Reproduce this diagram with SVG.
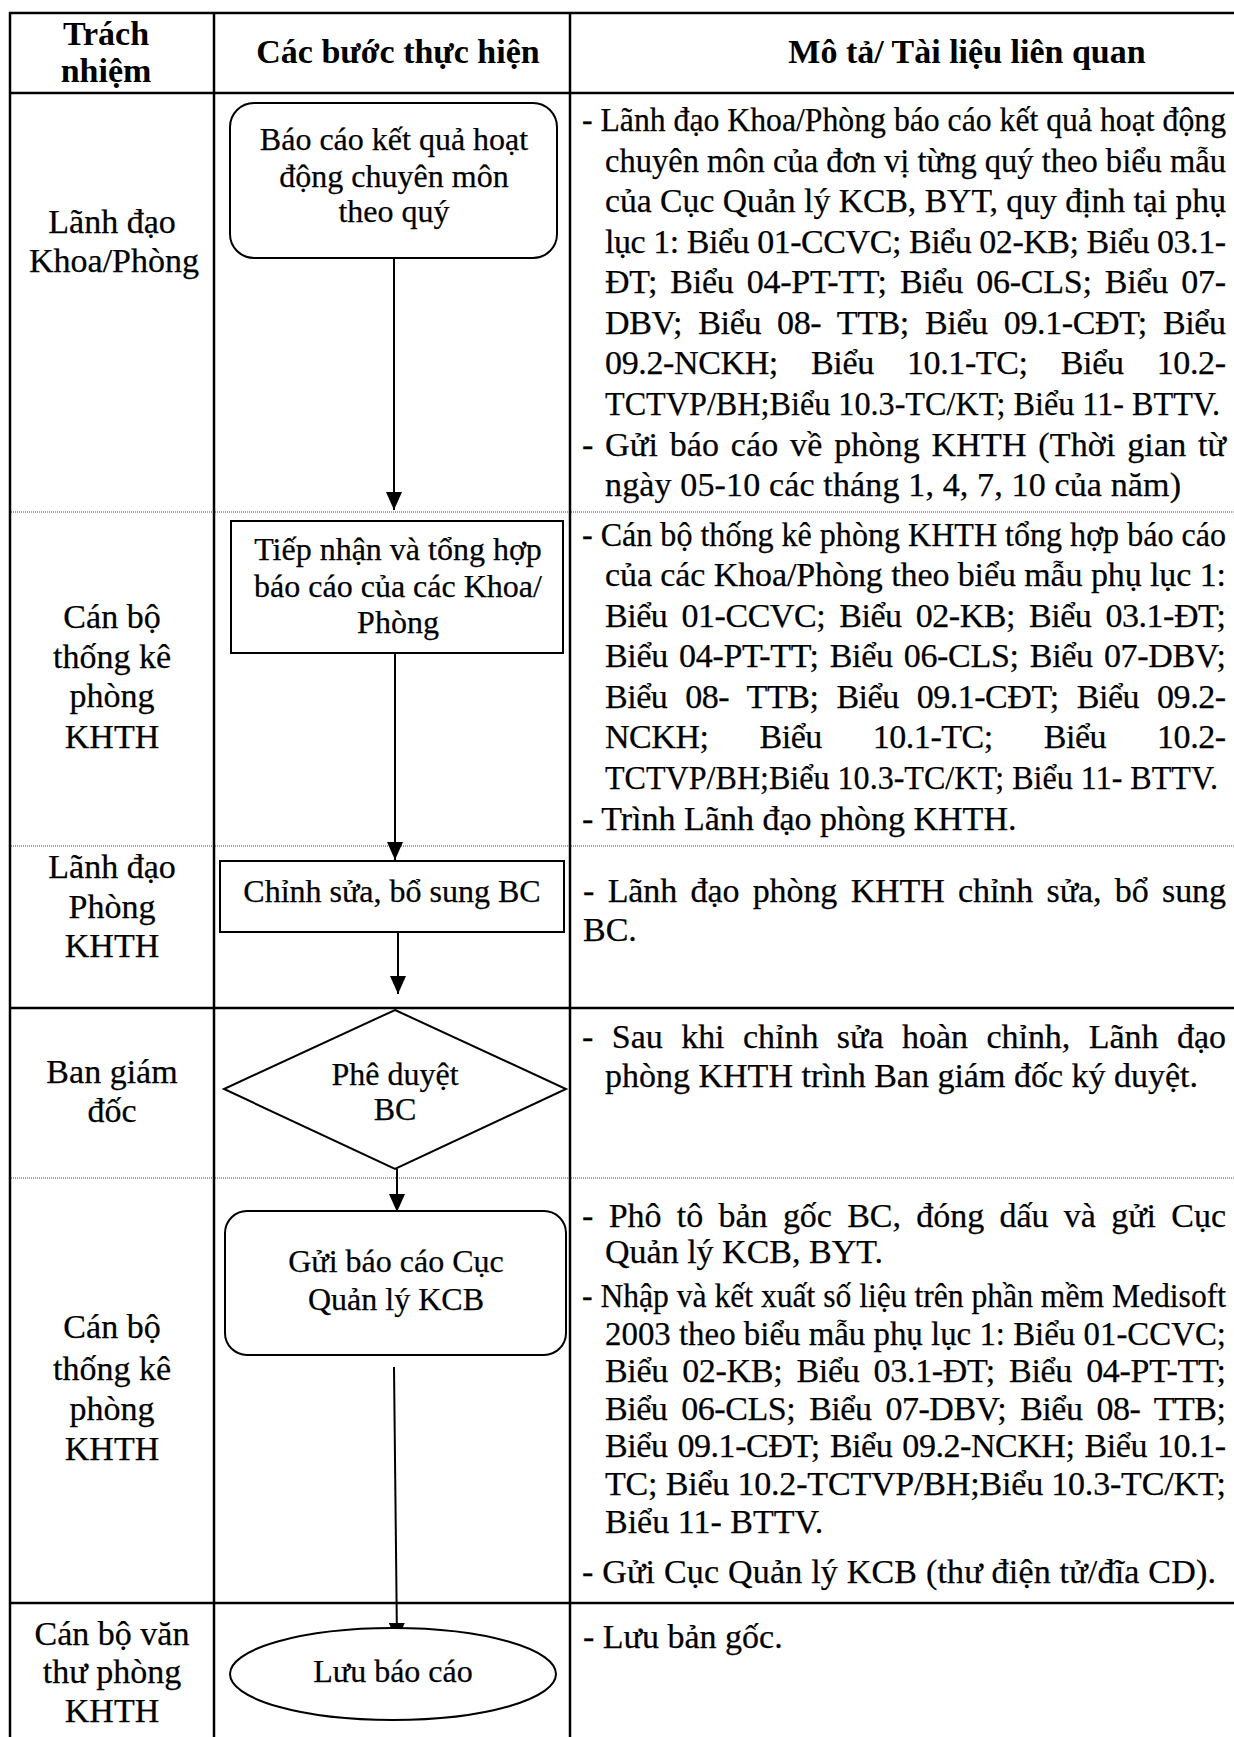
<svg xmlns="http://www.w3.org/2000/svg" width="1234" height="1737" viewBox="0 0 1234 1737">
<style>
text { font-family: "Liberation Serif", "Times New Roman", serif; fill: #000; }
.hd { font-size: 34px; font-weight: bold; text-anchor: middle; }
.lane { font-size: 34px; text-anchor: middle; stroke: #000; stroke-width: 0.25; }
.nt { font-size: 32px; text-anchor: middle; stroke: #000; stroke-width: 0.25; }
.ds { font-size: 34px; stroke: #000; stroke-width: 0.25; }
.grid { stroke: #000; stroke-width: 2.5; fill: none; }
.dot { stroke: #444; stroke-width: 1; stroke-dasharray: 1 1; fill: none; }
.shape { stroke: #000; stroke-width: 2; fill: #fff; }
.conn { stroke: #000; stroke-width: 2; fill: none; }
</style>
<defs>
<marker id="arr" markerUnits="userSpaceOnUse" markerWidth="18" markerHeight="16" refX="18" refY="8" orient="auto" viewBox="0 0 18 16">
<path d="M0,0 L18,8 L0,16 Z" fill="#000"/>
</marker>
</defs>
<rect x="0" y="0" width="1234" height="1737" fill="#fff"/>

<g id="table">
<line class="grid" x1="9" y1="13" x2="1234" y2="13"/>
<line class="grid" x1="9" y1="93" x2="1234" y2="93"/>
<line class="grid" x1="9" y1="1008" x2="1234" y2="1008"/>
<line class="grid" x1="9" y1="1603" x2="1234" y2="1603"/>
<line class="dot" x1="9" y1="512" x2="1234" y2="512"/>
<line class="dot" x1="9" y1="846" x2="1234" y2="846"/>
<line class="dot" x1="9" y1="1178" x2="1234" y2="1178"/>
<line class="grid" x1="10" y1="12" x2="10" y2="1737"/>
<line class="grid" x1="214" y1="12" x2="214" y2="1737"/>
<line class="grid" x1="570" y1="12" x2="570" y2="1737"/>
</g>

<g id="header">
<text class="hd" x="106" y="45">Trách</text>
<text class="hd" x="106" y="82">nhiệm</text>
<text class="hd" x="398" y="63">Các bước thực hiện</text>
<text class="hd" x="967" y="63">Mô tả/ Tài liệu liên quan</text>
</g>

<g id="lanes">
<text class="lane" x="112" y="233">Lãnh đạo</text>
<text class="lane" x="114" y="272">Khoa/Phòng</text>
<text class="lane" x="112" y="628">Cán bộ</text>
<text class="lane" x="112" y="668">thống kê</text>
<text class="lane" x="112" y="707">phòng</text>
<text class="lane" x="112" y="748">KHTH</text>
<text class="lane" x="112" y="878">Lãnh đạo</text>
<text class="lane" x="112" y="918">Phòng</text>
<text class="lane" x="112" y="957">KHTH</text>
<text class="lane" x="112" y="1083">Ban giám</text>
<text class="lane" x="112" y="1122">đốc</text>
<text class="lane" x="112" y="1338">Cán bộ</text>
<text class="lane" x="112" y="1380">thống kê</text>
<text class="lane" x="112" y="1420">phòng</text>
<text class="lane" x="112" y="1460">KHTH</text>
<text class="lane" x="112" y="1645">Cán bộ văn</text>
<text class="lane" x="112" y="1683">thư phòng</text>
<text class="lane" x="112" y="1722">KHTH</text>
</g>

<g id="connectors">
<line class="conn" x1="394" y1="258" x2="394" y2="510" marker-end="url(#arr)"/>
<line class="conn" x1="395" y1="653" x2="395" y2="860" marker-end="url(#arr)"/>
<line class="conn" x1="398" y1="932" x2="398" y2="994" marker-end="url(#arr)"/>
<line class="conn" x1="397" y1="1169" x2="397" y2="1212" marker-end="url(#arr)"/>
<line class="conn" x1="394" y1="1367" x2="397" y2="1641" marker-end="url(#arr)"/>
</g>

<g id="node1">
<rect class="shape" x="230" y="103" width="327" height="155" rx="24" ry="24"/>
<text class="nt" x="394" y="150">Báo cáo kết quả hoạt</text>
<text class="nt" x="394" y="187">động chuyên môn</text>
<text class="nt" x="394" y="222">theo quý</text>
</g>

<g id="node2">
<rect class="shape" x="231" y="521" width="332" height="132"/>
<text class="nt" x="398" y="560">Tiếp nhận và tổng hợp</text>
<text class="nt" x="398" y="597">báo cáo của các Khoa/</text>
<text class="nt" x="398" y="633">Phòng</text>
</g>

<g id="node3">
<rect class="shape" x="220" y="861" width="344" height="71"/>
<text class="nt" x="392" y="902">Chỉnh sửa, bổ sung BC</text>
</g>

<g id="node4">
<polygon class="shape" points="395,1010 566,1089 395,1169 224,1089"/>
<text class="nt" x="395" y="1085">Phê duyệt</text>
<text class="nt" x="395" y="1120">BC</text>
</g>

<g id="node5">
<rect class="shape" x="225" y="1211" width="341" height="144" rx="22" ry="22"/>
<text class="nt" x="396" y="1272">Gửi báo cáo Cục</text>
<text class="nt" x="396" y="1310">Quản lý KCB</text>
</g>

<g id="node6">
<ellipse class="shape" cx="393" cy="1674" rx="163" ry="46"/>
<text class="nt" x="393" y="1682">Lưu báo cáo</text>
</g>

<g id="descriptions">
<text class="ds" x="582" y="131" textLength="644" lengthAdjust="spacingAndGlyphs">- Lãnh đạo Khoa/Phòng báo cáo kết quả hoạt động</text>
<text class="ds" x="605" y="172" textLength="621" lengthAdjust="spacingAndGlyphs">chuyên môn của đơn vị từng quý theo biểu mẫu</text>
<text class="ds" x="605" y="212" textLength="621" lengthAdjust="spacingAndGlyphs">của Cục Quản lý KCB, BYT, quy định tại phụ</text>
<text class="ds" x="605" y="253" textLength="621">lục 1: Biểu 01-CCVC; Biểu 02-KB; Biểu 03.1-</text>
<text class="ds" x="605" y="293" textLength="621" style="word-spacing:5px">ĐT; Biểu 04-PT-TT; Biểu 06-CLS; Biểu 07-</text>
<text class="ds" x="605" y="334" textLength="621" style="word-spacing:8px">DBV; Biểu 08- TTB; Biểu 09.1-CĐT; Biểu</text>
<text class="ds" x="605" y="374" textLength="621" style="word-spacing:25px">09.2-NCKH; Biểu 10.1-TC; Biểu 10.2-</text>
<text class="ds" x="605" y="415" textLength="615" lengthAdjust="spacingAndGlyphs">TCTVP/BH;Biểu 10.3-TC/KT; Biểu 11- BTTV.</text>
<text class="ds" x="582" y="456" textLength="644" style="word-spacing:3px">- Gửi báo cáo về phòng KHTH (Thời gian từ</text>
<text class="ds" x="605" y="496" textLength="576">ngày 05-10 các tháng 1, 4, 7, 10 của năm)</text>

<text class="ds" x="582" y="546" textLength="644" lengthAdjust="spacingAndGlyphs">- Cán bộ thống kê phòng KHTH tổng hợp báo cáo</text>
<text class="ds" x="605" y="586" textLength="621">của các Khoa/Phòng theo biểu mẫu phụ lục 1:</text>
<text class="ds" x="605" y="627" textLength="621" style="word-spacing:6px">Biểu 01-CCVC; Biểu 02-KB; Biểu 03.1-ĐT;</text>
<text class="ds" x="605" y="667" textLength="621" style="word-spacing:3px">Biểu 04-PT-TT; Biểu 06-CLS; Biểu 07-DBV;</text>
<text class="ds" x="605" y="708" textLength="621" style="word-spacing:10px">Biểu 08- TTB; Biểu 09.1-CĐT; Biểu 09.2-</text>
<text class="ds" x="605" y="748" textLength="621" style="word-spacing:43px">NCKH; Biểu 10.1-TC; Biểu 10.2-</text>
<text class="ds" x="605" y="789" textLength="613" lengthAdjust="spacingAndGlyphs">TCTVP/BH;Biểu 10.3-TC/KT; Biểu 11- BTTV.</text>
<text class="ds" x="582" y="830">- Trình Lãnh đạo phòng KHTH.</text>

<text class="ds" x="583" y="902" textLength="643" style="word-spacing:5px">- Lãnh đạo phòng KHTH chỉnh sửa, bổ sung</text>
<text class="ds" x="583" y="941">BC.</text>

<text class="ds" x="582" y="1048" textLength="644" style="word-spacing:10px">- Sau khi chỉnh sửa hoàn chỉnh, Lãnh đạo</text>
<text class="ds" x="605" y="1087">phòng KHTH trình Ban giám đốc ký duyệt.</text>

<text class="ds" x="582" y="1227" textLength="644" style="word-spacing:7px">- Phô tô bản gốc BC, đóng dấu và gửi Cục</text>
<text class="ds" x="605" y="1263">Quản lý KCB, BYT.</text>
<text class="ds" x="582" y="1307" textLength="644" lengthAdjust="spacingAndGlyphs">- Nhập và kết xuất số liệu trên phần mềm Medisoft</text>
<text class="ds" x="605" y="1345" textLength="621" lengthAdjust="spacingAndGlyphs">2003 theo biểu mẫu phụ lục 1: Biểu 01-CCVC;</text>
<text class="ds" x="605" y="1382" textLength="621" style="word-spacing:6px">Biểu 02-KB; Biểu 03.1-ĐT; Biểu 04-PT-TT;</text>
<text class="ds" x="605" y="1420" textLength="621" style="word-spacing:6px">Biểu 06-CLS; Biểu 07-DBV; Biểu 08- TTB;</text>
<text class="ds" x="605" y="1457" textLength="621" style="word-spacing:2px">Biểu 09.1-CĐT; Biểu 09.2-NCKH; Biểu 10.1-</text>
<text class="ds" x="605" y="1495" textLength="621">TC; Biểu 10.2-TCTVP/BH;Biểu 10.3-TC/KT;</text>
<text class="ds" x="605" y="1533">Biểu 11- BTTV.</text>
<text class="ds" x="582" y="1583" textLength="634">- Gửi Cục Quản lý KCB (thư điện tử/đĩa CD).</text>

<text class="ds" x="583" y="1648">- Lưu bản gốc.</text>
</g>
</svg>
